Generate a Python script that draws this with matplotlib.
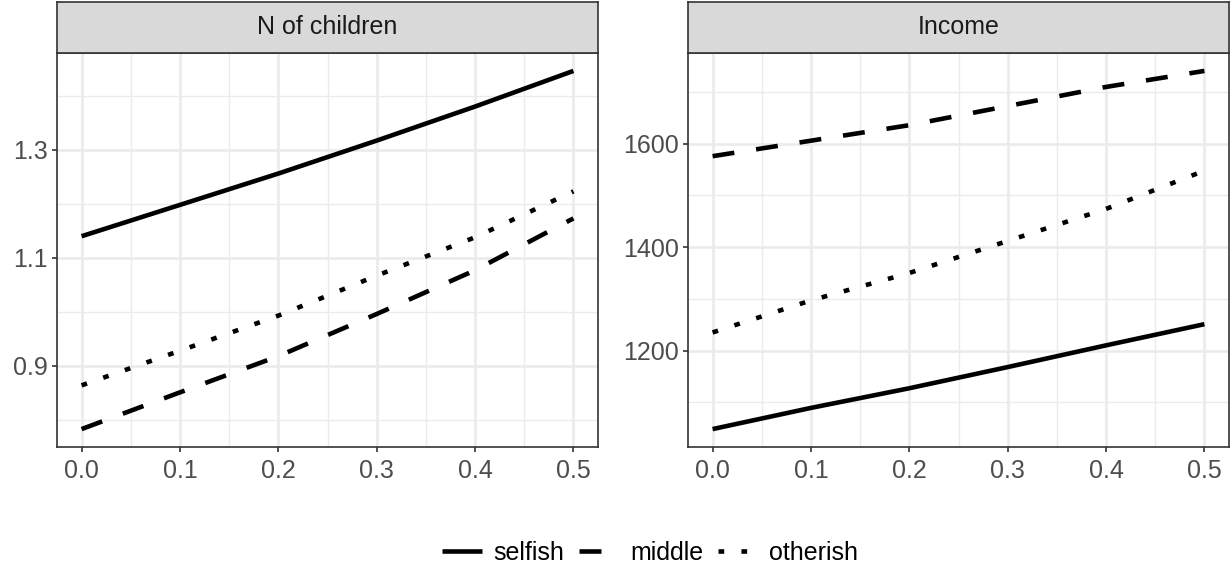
import matplotlib
matplotlib.use("Agg")
import matplotlib.pyplot as plt
from matplotlib.lines import Line2D
from matplotlib.ticker import FormatStrFormatter

plt.rcParams['font.family'] = ['Liberation Sans', 'DejaVu Sans']

x = [0.0, 0.1, 0.2, 0.3, 0.4, 0.5]
groups = ["selfish", "middle", "otherish"]

children_selfish = [1.140, 1.198, 1.256, 1.317, 1.380, 1.446]
children_middle = [0.783, 0.851, 0.918, 0.996, 1.077, 1.173]
children_otherish = [0.864, 0.928, 0.993, 1.067, 1.138, 1.223]

income_selfish = [1048, 1089, 1127, 1168, 1210, 1251]
income_middle = [1576, 1606, 1636, 1673, 1710, 1741]
income_otherish = [1235, 1297, 1350, 1412, 1474, 1548]

panels = [
    ("N of children", [children_selfish, children_middle, children_otherish],
     [0.9, 1.1, 1.3], [0.8, 1.0, 1.2, 1.4], "%.1f"),
    ("Income", [income_selfish, income_middle, income_otherish],
     [1200, 1400, 1600], [1100, 1300, 1500, 1700], "%d"),
]

styles = {
    "selfish": "-",
    "middle": (0, (4.8, 4.8)),
    "otherish": (0, (1.25, 3.75)),
}

W, H = 1232, 570
fig = plt.figure(figsize=(W / 100, H / 100), dpi=100)

fs = 18
lw = 3.3
panel_px = [(57, 598), (688, 1229)]
top_px, bottom_px, strip_top = 53, 447, 2

for (title, series, yt, ymt, fmt), (l, r) in zip(panels, panel_px):
    ax = fig.add_axes([l / W, 1 - bottom_px / H, (r - l) / W, (bottom_px - top_px) / H])
    for name, ys in zip(groups, series):
        ax.plot(x, ys, color="black", lw=lw, linestyle=styles[name],
                dash_capstyle="butt", solid_capstyle="butt")
    ax.set_xticks(x)
    ax.set_xticks([0.05, 0.15, 0.25, 0.35, 0.45], minor=True)
    ax.set_yticks(yt)
    ax.set_yticks(ymt, minor=True)
    ax.xaxis.set_major_formatter(FormatStrFormatter("%.1f"))
    ax.yaxis.set_major_formatter(FormatStrFormatter(fmt))
    ax.grid(True, which="major", color="#EBEBEB", lw=1.9)
    ax.grid(True, which="minor", color="#EBEBEB", lw=1.0)
    ax.set_axisbelow(True)
    ax.tick_params(which="major", length=3.6, width=1.2, color="#333333",
                   labelsize=fs, labelcolor="#4D4D4D", pad=3)
    ax.tick_params(axis="x", which="major", pad=5)
    ax.tick_params(which="minor", length=0)
    for s in ax.spines.values():
        s.set_color("#333333")
        s.set_linewidth(1.2)

    sax = fig.add_axes([l / W, 1 - top_px / H, (r - l) / W, (top_px - strip_top) / H])
    sax.set_facecolor("#D9D9D9")
    sax.set_xticks([])
    sax.set_yticks([])
    for s in sax.spines.values():
        s.set_color("#333333")
        s.set_linewidth(1.2)
    sax.text(0.5, 0.5, title, ha="center", va="center", fontsize=fs,
             color="#1A1A1A", transform=sax.transAxes)

handles = [Line2D([], [], color="black", lw=lw, linestyle=styles[g],
                  dash_capstyle="butt", solid_capstyle="butt") for g in groups]
fig.legend(handles, groups, loc="center", bbox_to_anchor=(650 / W, 1 - 553 / H),
           ncol=3, frameon=False, fontsize=fs, handlelength=1.6,
           handletextpad=0.45, columnspacing=0.6)

fig.savefig("out.png", dpi=100)
